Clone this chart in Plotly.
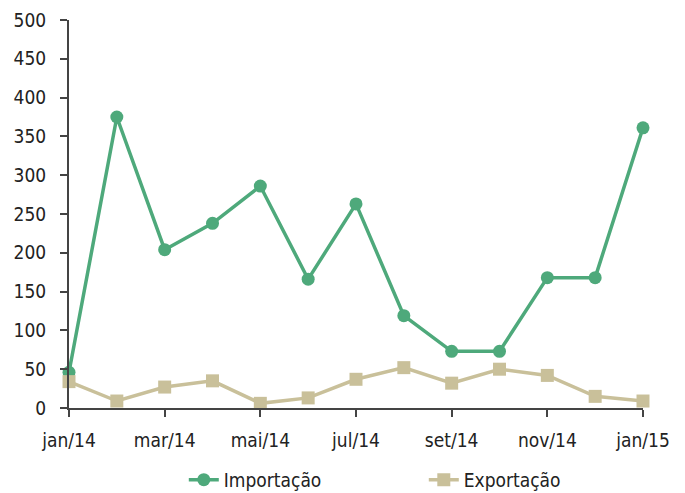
import plotly.graph_objects as go

# monthly values, jan/14 .. jan/15
months = ["jan/14", "fev/14", "mar/14", "abr/14", "mai/14", "jun/14", "jul/14",
          "ago/14", "set/14", "out/14", "nov/14", "dez/14", "jan/15"]
importacao = [46, 375, 204, 238, 286, 166, 263, 119, 73, 73, 168, 168, 361]
exportacao = [34, 9, 27, 35, 6, 13, 37, 52, 32, 50, 42, 15, 9]

x = list(range(len(months)))
font_family = "DejaVu Sans Condensed, sans-serif"

fig = go.Figure()
fig.add_trace(go.Scatter(
    x=x, y=importacao, name="Importação", mode="lines+markers",
    line=dict(color="#4EA97B", width=3.5),
    marker=dict(symbol="circle", size=13, color="#4EA97B"),
    cliponaxis=False
))
fig.add_trace(go.Scatter(
    x=x, y=exportacao, name="Exportação", mode="lines+markers",
    line=dict(color="#C9C09A", width=3.5),
    marker=dict(symbol="square", size=13, color="#C9C09A"),
    cliponaxis=False
))

# page body adds an 8px offset, margins compensate for it
fig.update_layout(
    width=685, height=493,
    margin=dict(l=61, r=50, t=12, b=93),
    plot_bgcolor="white", paper_bgcolor="white",
    font=dict(family=font_family, size=19, color="#222222"),
    showlegend=True,
    legend=dict(orientation="h", x=0.2, xanchor="left",
                yref="container", y=0.043, yanchor="middle",
                font=dict(size=19), entrywidth=195, tracegroupgap=0)
)
fig.update_xaxes(
    range=[0, 12], tickmode="array", tickvals=x[::2], ticktext=months[::2],
    showgrid=False, zeroline=False, showline=True, linecolor="#444444", linewidth=2,
    ticks="outside", ticklen=7, tickwidth=2, tickcolor="#444444",
    ticklabelstandoff=7, automargin=False
)
fig.update_yaxes(
    range=[0, 500], dtick=50, showgrid=False, zeroline=False,
    showline=True, linecolor="#444444", linewidth=2,
    ticks="outside", ticklen=7, tickwidth=2, tickcolor="#444444",
    ticklabelstandoff=10, automargin=False
)

fig.write_html("out.html")
